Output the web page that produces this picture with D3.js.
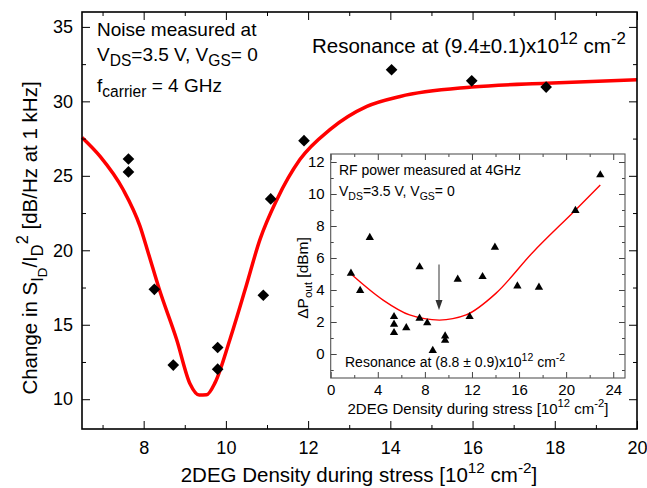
<!DOCTYPE html>
<html>
<head>
<meta charset="utf-8">
<script src="https://cdn.jsdelivr.net/npm/d3@7"></script>
<style>
  body { margin: 0; background: #fff; }
  text { font-family: "Liberation Sans", Arial, sans-serif; white-space: pre; }
</style>
</head>
<body>
<script>
var WIDTH = 647,
    HEIGHT = 488;

// main plot: noise change vs 2DEG density
var noiseX = [7.63, 7.63, 8.26, 8.72, 9.8, 9.8, 10.91, 11.09, 11.9, 14.03, 15.98, 17.79];
var noiseY = [26.13, 25.26, 17.38, 12.29, 13.47, 12.02, 16.98, 23.45, 27.36, 32.12, 31.38, 30.96];

// resonance fit (red curve)
var fitX = [6.5, 6.94, 7.5, 7.91, 8.11, 8.38, 8.8, 9.13, 9.35, 9.53, 9.74, 10.1, 10.47, 10.83, 11.24, 11.8, 12.53, 13.43, 14.24, 15.98, 17.79, 20];
var fitY = [27.58, 26.31, 24.08, 21.62, 19.84, 17.38, 14.03, 11.02, 10.28, 10.3, 11.13, 14.03, 17.38, 20.73, 23.4, 26.09, 28.1, 29.66, 30.33, 30.96, 31.22, 31.45];

var xTicks = [8, 10, 12, 14, 16, 18, 20];
var yTicks = [10, 15, 20, 25, 30, 35];

// inset: RF power change
var rfX = [1.72, 2.5, 3.32, 5.38, 5.38, 5.38, 6.42, 7.55, 7.55, 8.2, 8.67, 9.72, 9.72, 10.79, 11.8, 12.9, 13.95, 15.86, 17.69, 20.79, 22.9];
var rfY = [5.04, 3.96, 7.27, 2.33, 1.85, 1.33, 1.63, 5.44, 2.23, 1.94, 0.21, 1.12, 0.86, 4.67, 2.33, 4.83, 6.67, 4.25, 4.17, 8.96, 11.19];

var rfFitX = [1.8, 4.45, 6.7, 9.24, 11.5, 14.03, 17.1, 20.8, 22.9];
var rfFitY = [4.95, 3.37, 2.44, 2.12, 2.44, 3.79, 6.3, 9.0, 10.56];

var inXTicks = [0, 4, 8, 12, 16, 20, 24];
var inYTicks = [0, 2, 4, 6, 8, 10, 12];

var arrowX = 9.2, arrowFrom = 5.6, arrowTo = 2.75;

var svg = d3.select("body").append("svg")
    .attr("width", WIDTH)
    .attr("height", HEIGHT);

// text with sub/superscripts: parts = [[string, level]], level 0 normal, 1 sub, 2 subsub, -1 sup
var rich = function(g, x, y, parts, fs, k) {
  k = k || 0.75;
  var t = g.append("text").attr("x", x).attr("y", y).style("font-size", fs + "px");
  var cur = 0;
  parts.forEach(function(p) {
    var lvl = p[1];
    var off = (lvl === 1 ? 0.28 : lvl === 2 ? 0.5 : lvl === -1 ? -0.45 : 0) * fs;
    var size = lvl === 0 ? fs : lvl === 2 ? fs * 0.65 : fs * k;
    t.append("tspan").attr("dy", off - cur).style("font-size", size + "px").text(p[0]);
    cur = off;
  });
  return t;
};

var frameAxes = function(g, x, y, xMaj, xMin, yMaj, yMin, big, small, fs, pad) {
  var r = x.range(), b = y.range();
  var left = r[0], right = r[1], bottom = b[0], top = b[1];
  var tick = function(axis, vals, size, pos, labels) {
    var a = axis.tickValues(vals).tickSize(-size).tickSizeOuter(0);
    if (!labels) a.tickFormat("");
    var s = g.append("g").attr("transform", pos).call(a);
    s.select(".domain").remove();
    s.selectAll("text").style("font-size", fs + "px").style("font-family", null).attr("fill", "#000");
    return s;
  };
  tick(d3.axisBottom(x).tickPadding(pad[0]), xMaj, big, "translate(0," + bottom + ")", true);
  tick(d3.axisBottom(x), xMin, small, "translate(0," + bottom + ")");
  tick(d3.axisTop(x), xMaj, big, "translate(0," + top + ")");
  tick(d3.axisTop(x), xMin, small, "translate(0," + top + ")");
  tick(d3.axisLeft(y).tickPadding(pad[1]), yMaj, big, "translate(" + left + ",0)", true);
  tick(d3.axisLeft(y), yMin, small, "translate(" + left + ",0)");
  tick(d3.axisRight(y), yMaj, big, "translate(" + right + ",0)");
  tick(d3.axisRight(y), yMin, small, "translate(" + right + ",0)");
};

// ---------- main plot ----------
var x = d3.scaleLinear().domain([6.5, 20]).range([82, 637]);
var y = d3.scaleLinear().domain([8, 36]).range([429, 12]);

var main = svg.append("g");

main.append("path")
    .datum(d3.range(fitX.length))
    .attr("fill", "none")
    .attr("stroke", "#ff0000")
    .attr("stroke-width", 3.5)
    .attr("d", d3.line().curve(d3.curveMonotoneX)
      .x(function(i){ return x(fitX[i]); })
      .y(function(i){ return y(fitY[i]); }));

main.selectAll(".dia")
    .data(d3.range(noiseX.length))
    .enter().append("path")
    .attr("class", "dia")
    .attr("transform", function(i){ return "translate(" + x(noiseX[i]) + "," + y(noiseY[i]) + ") rotate(45)"; })
    .attr("d", d3.symbol().type(d3.symbolSquare).size(68))
    .attr("fill", "#000");

frameAxes(main, x, y, xTicks, d3.range(7, 20, 2), yTicks, [12.5, 17.5, 22.5, 27.5, 32.5], 8, 4, 18, [12, 9]);

main.append("rect")
    .attr("x", 82).attr("y", 12)
    .attr("width", 637 - 82).attr("height", 429 - 12)
    .attr("fill", "none").attr("stroke", "#000").attr("stroke-width", 1.6);

// annotations
rich(main, 97, 36, [["Noise measured at", 0]], 19);
rich(main, 97, 61, [["V", 0], ["DS", 1], ["=3.5 V, V", 0], ["GS", 1], ["= 0", 0]], 19, 0.82);
rich(main, 97, 92, [["f", 0], ["carrier", 1], [" = 4 GHz", 0]], 19, 0.82);
rich(main, 312, 53, [["Resonance at (9.4\u00b10.1)x10", 0], ["12", -1], [" cm", 0], ["-2", -1]], 20.5, 0.82);

rich(main, 359, 482, [["2DEG Density during stress [10", 0], ["12", -1], [" cm", 0], ["-2", -1], ["]", 0]], 20.5)
    .attr("text-anchor", "middle");

rich(main, 0, 0, [["Change in S", 0], ["I", 1], ["D", 2], ["/I", 0], ["D", 1], ["2", -1], [" [dB/Hz at 1 kHz]", 0]], 20.5, 0.8)
    .attr("text-anchor", "middle")
    .attr("transform", "translate(37,238) rotate(-90)");

// ---------- inset ----------
var xi = d3.scaleLinear().domain([0, 25]).range([330.7, 625]);
var yi = d3.scaleLinear().domain([-1.5, 12.5]).range([378, 154]);

var inset = svg.append("g");

inset.append("rect")
    .attr("x", 330.7).attr("y", 154)
    .attr("width", 625 - 330.7).attr("height", 378 - 154)
    .attr("fill", "#fff");

inset.append("path")
    .datum(d3.range(rfFitX.length))
    .attr("fill", "none")
    .attr("stroke", "#ff0000")
    .attr("stroke-width", 1.4)
    .attr("d", d3.line().curve(d3.curveMonotoneX)
      .x(function(i){ return xi(rfFitX[i]); })
      .y(function(i){ return yi(rfFitY[i]); }));

inset.selectAll(".tri")
    .data(d3.range(rfX.length))
    .enter().append("path")
    .attr("class", "tri")
    .attr("transform", function(i){ return "translate(" + xi(rfX[i]) + "," + yi(rfY[i]) + ")"; })
    .attr("d", d3.symbol().type(d3.symbolTriangle).size(30))
    .attr("fill", "#000");

// arrow marking the resonance
inset.append("line")
    .attr("x1", xi(arrowX)).attr("x2", xi(arrowX))
    .attr("y1", yi(arrowFrom)).attr("y2", yi(arrowTo) - 8)
    .attr("stroke", "#555").attr("stroke-width", 1.2);
inset.append("path")
    .attr("d", "M" + (xi(arrowX) - 3.5) + "," + (yi(arrowTo) - 10) +
               "L" + (xi(arrowX) + 3.5) + "," + (yi(arrowTo) - 10) +
               "L" + xi(arrowX) + "," + yi(arrowTo) + "Z")
    .attr("fill", "#333");

var inAxes = inset.append("g").attr("color", "#444");
frameAxes(inAxes, xi, yi, inXTicks, d3.range(2, 25, 4), inYTicks, d3.range(-1, 12, 2), 6, 3, 15, [6, 6]);

inset.append("rect")
    .attr("x", 330.7).attr("y", 154)
    .attr("width", 625 - 330.7).attr("height", 378 - 154)
    .attr("fill", "none").attr("stroke", "#555").attr("stroke-width", 1.1);

rich(inset, 339, 175, [["RF power measured at 4GHz", 0]], 14);
rich(inset, 339, 196, [["V", 0], ["DS", 1], ["=3.5 V, V", 0], ["GS", 1], ["= 0", 0]], 14);
rich(inset, 345, 367, [["Resonance at (8.8 \u00b1 0.9)x10", 0], ["12", -1], [" cm", 0], ["-2", -1]], 14);

rich(inset, 478, 414, [["2DEG Density during stress [10", 0], ["12", -1], [" cm", 0], ["-2", -1], ["]", 0]], 15)
    .attr("text-anchor", "middle");

rich(inset, 0, 0, [["\u0394P", 0], ["out", 1], [" [dBm]", 0]], 15.5)
    .attr("text-anchor", "middle")
    .attr("transform", "translate(308,278) rotate(-90)");
</script>
</body>
</html>
